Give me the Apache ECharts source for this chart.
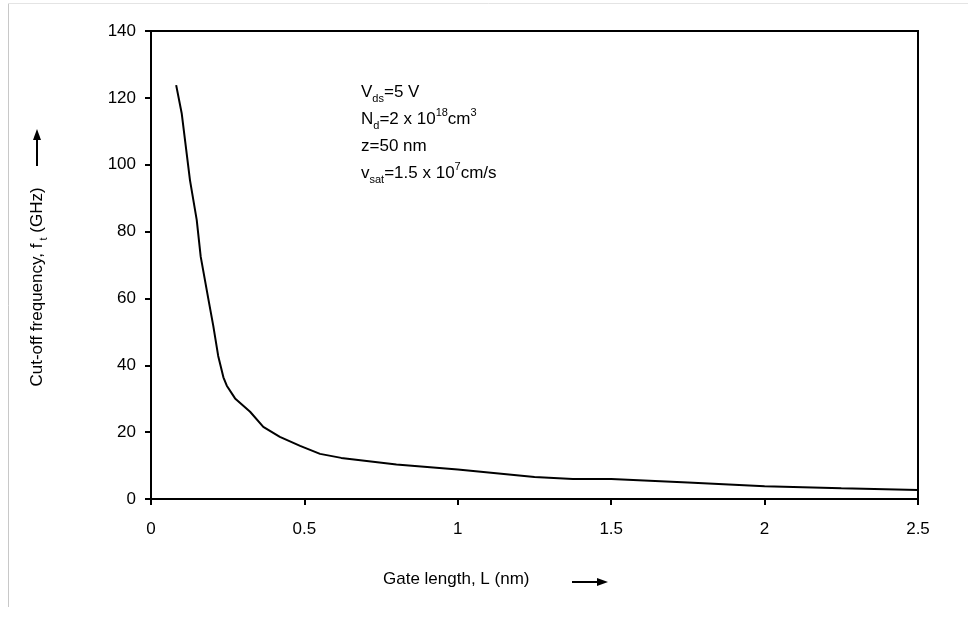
<!DOCTYPE html>
<html>
<head>
<meta charset="utf-8">
<script src="https://cdn.jsdelivr.net/npm/echarts@6/dist/echarts.min.js"></script>
<style>
html,body{margin:0;padding:0;background:#fff;}
#chart{width:968px;height:622px;}
</style>
</head>
<body>
<div id="chart"></div>
<script>
// Gate length L (nm)
var gateLength = [0.082, 0.100, 0.127, 0.149, 0.162, 0.187, 0.203, 0.219, 0.227, 0.236, 0.247, 0.274, 0.323, 0.366, 0.420, 0.486, 0.551, 0.62, 0.80, 1.0, 1.25, 1.375, 1.5, 1.75, 2.0, 2.25, 2.5];
// Cut-off frequency f_t (GHz)
var cutoffFreq = [123.8, 115.4, 95.4, 83.5, 72.5, 59.8, 51.8, 42.8, 39.8, 36.4, 33.9, 30.1, 26.1, 21.6, 18.6, 15.9, 13.5, 12.3, 10.3, 8.8, 6.6, 6.0, 6.0, 4.9, 3.8, 3.2, 2.7];
var xAxisRange = [0, 2.5, 0.5];
var yAxisRange = [0, 140, 20];
var xTitle = 'Gate length, L (nm)';
var annotations = [
  '{n|V}{sub|ds}{n|=5 V}',
  '{n|N}{sub|d}{n|=2 x 10}{sup|18}{n|cm}{sup|3}',
  '{n|z=50 nm}',
  '{n|v}{sub|sat}{n|=1.5 x 10}{sup|7}{n|cm/s}'
];

var FONT = '"Liberation Sans", Arial, sans-serif';
var chart = echarts.init(document.getElementById('chart'));
var data = gateLength.map(function (x, i) { return [x, cutoffFreq[i]]; });

var rich = {
  n: { fontSize: 17, lineHeight: 24, fontFamily: FONT, fill: '#000', color: '#000', verticalAlign: 'middle' },
  sub: { fontSize: 11, lineHeight: 11, fontFamily: FONT, fill: '#000', color: '#000', verticalAlign: 'bottom' },
  sup: { fontSize: 11, lineHeight: 11, fontFamily: FONT, fill: '#000', color: '#000', verticalAlign: 'top' }
};

var graphics = [];
// faint outer frame (left and top edges)
graphics.push({ type: 'line', shape: { x1: 8.5, y1: 3.5, x2: 8.5, y2: 607 }, style: { stroke: '#c8c8c8', lineWidth: 1 } });
graphics.push({ type: 'line', shape: { x1: 8.5, y1: 3.5, x2: 968, y2: 3.5 }, style: { stroke: '#e4e4e4', lineWidth: 1 } });

annotations.forEach(function (t, i) {
  graphics.push({
    type: 'text', x: 361, y: 92 + i * 27,
    style: { text: t, rich: rich, verticalAlign: 'middle', align: 'left', fill: '#000' }
  });
});

// y-axis title
graphics.push({
  type: 'text', x: 37, y: 287, rotation: Math.PI / 2,
  style: {
    text: '{n|Cut-off frequency, f}{sub| t}{n| (GHz)}',
    rich: rich, align: 'center', verticalAlign: 'middle', fill: '#000'
  }
});
// y arrow
graphics.push({ type: 'line', shape: { x1: 37, y1: 166, x2: 37, y2: 137 }, style: { stroke: '#000', lineWidth: 2 } });
graphics.push({ type: 'polygon', shape: { points: [[37, 129], [33, 140], [41, 140]] }, style: { fill: '#000' } });

// x-axis title
graphics.push({
  type: 'text', x: 383, y: 579,
  style: { text: xTitle, font: '17px ' + FONT, fill: '#000', align: 'left', verticalAlign: 'middle' }
});
// x arrow
graphics.push({ type: 'line', shape: { x1: 572, y1: 582, x2: 600, y2: 582 }, style: { stroke: '#000', lineWidth: 2 } });
graphics.push({ type: 'polygon', shape: { points: [[608, 582], [597, 578], [597, 586]] }, style: { fill: '#000' } });

chart.setOption({
  animation: false,
  backgroundColor: '#fff',
  grid: { left: 151, right: 50, top: 31, bottom: 123, show: true, borderColor: '#000', borderWidth: 2, containLabel: false },
  xAxis: {
    type: 'value', min: xAxisRange[0], max: xAxisRange[1], interval: xAxisRange[2],
    axisLine: { show: true, onZero: false, lineStyle: { color: '#000', width: 2 } },
    axisTick: { show: true, inside: false, length: 6, lineStyle: { color: '#000', width: 2 } },
    axisLabel: { color: '#000', fontSize: 17, fontFamily: FONT, margin: 22 },
    splitLine: { show: false }
  },
  yAxis: {
    type: 'value', min: yAxisRange[0], max: yAxisRange[1], interval: yAxisRange[2],
    axisLine: { show: true, lineStyle: { color: '#000', width: 2 } },
    axisTick: { show: true, inside: false, length: 6, lineStyle: { color: '#000', width: 2 } },
    axisLabel: { color: '#000', fontSize: 17, fontFamily: FONT, margin: 15 },
    splitLine: { show: false }
  },
  series: [{
    type: 'line', data: data, symbol: 'none', smooth: false,
    lineStyle: { color: '#000', width: 2 }
  }],
  graphic: graphics
});
</script>
</body>
</html>
